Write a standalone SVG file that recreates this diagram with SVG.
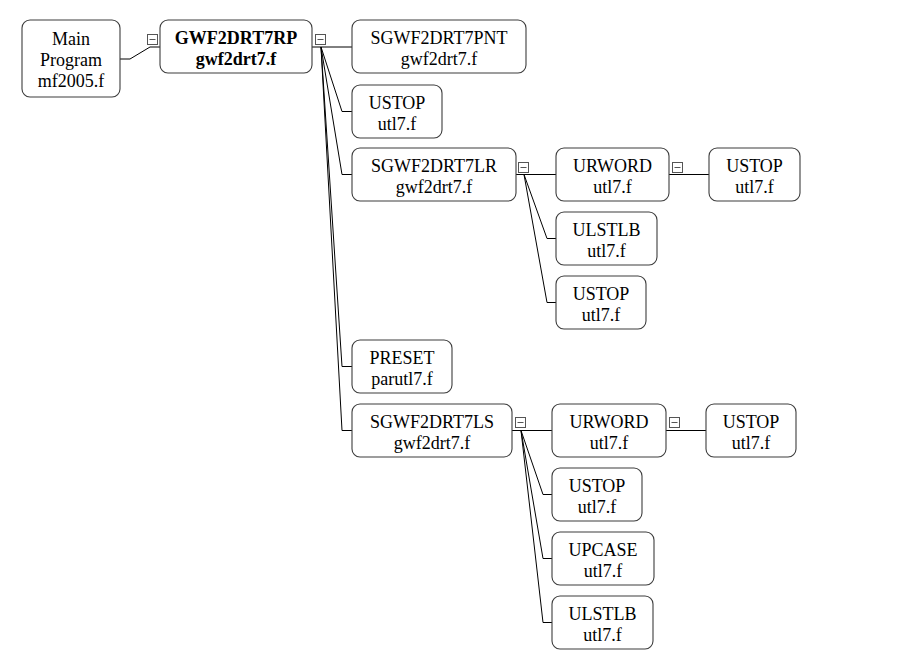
<svg xmlns="http://www.w3.org/2000/svg" width="900" height="670" viewBox="0 0 900 670">
<style>
.n rect{fill:#fff;stroke:#3c3c3c;stroke-width:1.1}
.n text{fill:#000;text-anchor:middle;font-family:'Liberation Serif','Times New Roman',serif;font-size:18px}
.b text{font-weight:bold}
.c path{fill:none;stroke:#000;stroke-width:1}
.t rect{fill:#fff;stroke:#555;stroke-width:1}
.t path{stroke:#555;stroke-width:1;fill:none}
</style>
<rect width="900" height="670" fill="#fff"/>
<g id="connectors" class="c">
<path d="M120,59 H130 L150,47 H160"/>
<path d="M312,47 H352"/>
<path d="M321,47 L342,111.5 H352"/>
<path d="M321,47 L342,174.5 H352"/>
<path d="M321,47 L342,366.5 H352"/>
<path d="M321,47 L342,430.5 H352"/>
<path d="M516,174.5 H556"/>
<path d="M524,174.5 L547,238.5 H556"/>
<path d="M524,174.5 L547,302.5 H556"/>
<path d="M669,174.5 H709"/>
<path d="M512,430.5 H552"/>
<path d="M521,430.5 L543,494.5 H552"/>
<path d="M521,430.5 L543,558.5 H552"/>
<path d="M521,430.5 L543,622.5 H552"/>
<path d="M666,430.5 H706"/>
</g>
<g id="toggles" class="t">
<rect x="147.5" y="34.5" width="10" height="10"/><path d="M149.5,39.5 H155.5"/>
<rect x="315.5" y="34.5" width="10" height="10"/><path d="M317.5,39.5 H323.5"/>
<rect x="518.5" y="162.5" width="10" height="10"/><path d="M520.5,167.5 H526.5"/>
<rect x="672.5" y="162.5" width="10" height="10"/><path d="M674.5,167.5 H680.5"/>
<rect x="515.5" y="417.5" width="10" height="10"/><path d="M517.5,422.5 H523.5"/>
<rect x="669.5" y="417.5" width="10" height="10"/><path d="M671.5,422.5 H677.5"/>
</g>
<g id="main" class="n"><rect x="22" y="20" width="98" height="77" rx="8"/><text x="71" y="45">Main</text><text x="71" y="66">Program</text><text x="71" y="87">mf2005.f</text></g>
<g id="gwf2drt7rp" class="n b"><rect x="160" y="20" width="152" height="53" rx="8"/><text x="236" y="44">GWF2DRT7RP</text><text x="236" y="65">gwf2drt7.f</text></g>
<g id="sgwf2drt7pnt" class="n"><rect x="352" y="20" width="174" height="53" rx="8"/><text x="439" y="44">SGWF2DRT7PNT</text><text x="439" y="65">gwf2drt7.f</text></g>
<g id="ustop1" class="n"><rect x="352" y="85" width="90" height="53" rx="8"/><text x="397" y="109">USTOP</text><text x="397" y="130">utl7.f</text></g>
<g id="sgwf2drt7lr" class="n"><rect x="352" y="148" width="164" height="53" rx="8"/><text x="434" y="172">SGWF2DRT7LR</text><text x="434" y="193">gwf2drt7.f</text></g>
<g id="lr_urword" class="n"><rect x="556" y="148" width="113" height="53" rx="8"/><text x="612.5" y="172">URWORD</text><text x="612.5" y="193">utl7.f</text></g>
<g id="lr_urword_ustop" class="n"><rect x="709" y="148" width="91" height="53" rx="8"/><text x="754.5" y="172">USTOP</text><text x="754.5" y="193">utl7.f</text></g>
<g id="lr_ulstlb" class="n"><rect x="556" y="212" width="101" height="53" rx="8"/><text x="606.5" y="236">ULSTLB</text><text x="606.5" y="257">utl7.f</text></g>
<g id="lr_ustop" class="n"><rect x="556" y="276" width="90" height="53" rx="8"/><text x="601" y="300">USTOP</text><text x="601" y="321">utl7.f</text></g>
<g id="preset" class="n"><rect x="352" y="340" width="100" height="53" rx="8"/><text x="402" y="364">PRESET</text><text x="402" y="385">parutl7.f</text></g>
<g id="sgwf2drt7ls" class="n"><rect x="352" y="404" width="160" height="53" rx="8"/><text x="432" y="428">SGWF2DRT7LS</text><text x="432" y="449">gwf2drt7.f</text></g>
<g id="ls_urword" class="n"><rect x="552" y="404" width="114" height="53" rx="8"/><text x="609" y="428">URWORD</text><text x="609" y="449">utl7.f</text></g>
<g id="ls_urword_ustop" class="n"><rect x="706" y="404" width="90" height="53" rx="8"/><text x="751" y="428">USTOP</text><text x="751" y="449">utl7.f</text></g>
<g id="ls_ustop" class="n"><rect x="552" y="468" width="90" height="53" rx="8"/><text x="597" y="492">USTOP</text><text x="597" y="513">utl7.f</text></g>
<g id="ls_upcase" class="n"><rect x="552" y="532" width="102" height="53" rx="8"/><text x="603" y="556">UPCASE</text><text x="603" y="577">utl7.f</text></g>
<g id="ls_ulstlb" class="n"><rect x="552" y="596" width="101" height="53" rx="8"/><text x="602.5" y="620">ULSTLB</text><text x="602.5" y="641">utl7.f</text></g>
</svg>
